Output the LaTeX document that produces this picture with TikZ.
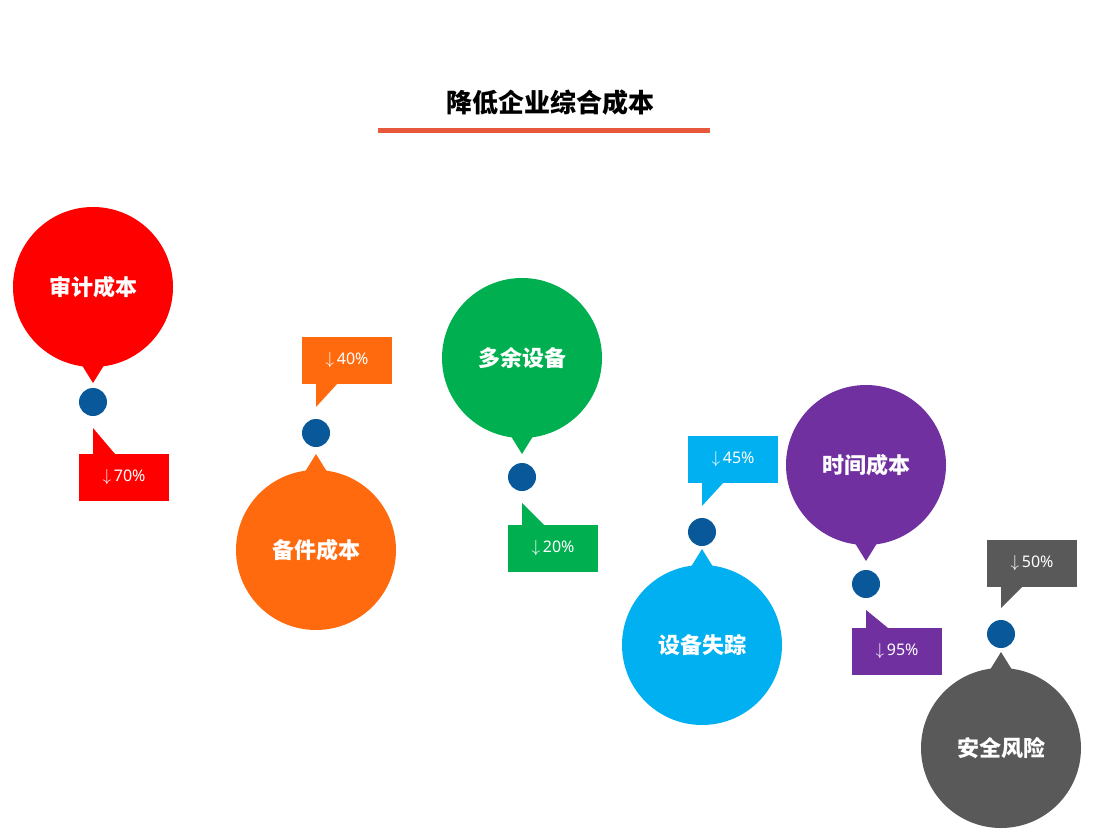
\documentclass[tikz,border=0pt]{standalone}
\usepackage{fontspec}
\setmainfont{Noto Sans}
\newfontfamily\cjk{Noto Sans CJK SC}
\usetikzlibrary{calc}
\definecolor{cRed}{HTML}{FF0000}
\definecolor{cOrange}{HTML}{FF6A0E}
\definecolor{cGreen}{HTML}{00B050}
\definecolor{cCyan}{HTML}{00B0F0}
\definecolor{cPurple}{HTML}{7030A0}
\definecolor{cGray}{HTML}{595959}
\definecolor{cDot}{HTML}{08589A}
\definecolor{cLine}{HTML}{E8583A}
\tikzset{
  bubble/.style={circle, minimum size=160pt, inner sep=0pt, text=white, font=\cjk\bfseries\fontsize{22}{26}\selectfont},
  pin/.style={circle, fill=cDot, minimum size=28pt, inner sep=0pt},
  tag/.style={minimum width=90pt, minimum height=47pt, inner sep=0pt, text=white, font=\fontsize{16}{18}\selectfont},
}
\begin{document}
\begin{tikzpicture}[x=1pt,y=-1pt]
  \useasboundingbox (0,0) rectangle (1100,840);
  \node (title) at (550,103) {\cjk\bfseries\fontsize{26}{30}\selectfont 降低企业综合成本};
  \draw[cLine, line width=5pt] (378,131) -- (710,131);
  % x, circle y, dot y, tag y, direction (1 = circle above), colour, text, value
  \foreach \x/\cy/\dy/\ty/\s/\col/\txt/\val [count=\i] in {
      93/287/402/477/1/cRed/审计成本/70,
      316/550/433/360/-1/cOrange/备件成本/40,
      522/358/477/548/1/cGreen/多余设备/20,
      702/645/532/459/-1/cCyan/设备失踪/45,
      866/465/584/651/1/cPurple/时间成本/95,
      1001/748/634/563/-1/cGray/安全风险/50} {
    \node[bubble, fill=\col] (b\i) at (\x,\cy) {\txt};
    \fill[\col] ($(b\i.center)+(-13,\s*75)$) -- ($(b\i.center)+(0,\s*96)$) -- ($(b\i.center)+(13,\s*75)$) -- cycle;
    \node[pin] (d\i) at (\x,\dy) {};
    \node[tag, fill=\col, anchor=center] (t\i) at (\x+31,\ty) {$\downarrow$\,\val\%};
    \fill[\col] ($(d\i.center)+(0,\s*26)$) -- ($(t\i.center)+(-31,-\s*23)$) -- ($(t\i.center)+(-9,-\s*23)$) -- cycle;
  }
\end{tikzpicture}
\end{document}
